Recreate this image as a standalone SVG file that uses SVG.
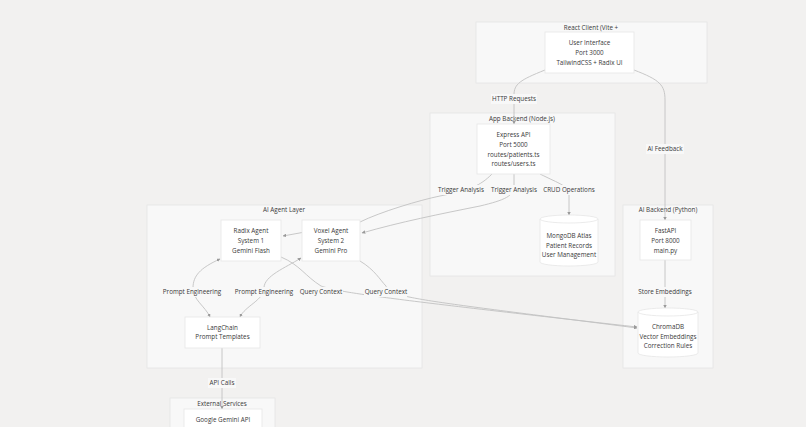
<svg xmlns="http://www.w3.org/2000/svg" width="806" height="427" viewBox="0 0 806 427">
<defs>
<marker id="ah" viewBox="0 0 10 10" refX="9" refY="5" markerWidth="4" markerHeight="4" orient="auto-start-reverse">
<path d="M0,0 L10,5 L0,10 z" fill="#9a9a9a"/>
</marker>
<style>
text{font-family:"Open Sans","Noto Sans",sans-serif;font-size:6.3px;fill:#3a3a3a;text-anchor:middle}
.cl{fill:#f8f8f8;stroke:#e4e4e4;stroke-width:0.8}
.nd{fill:#ffffff;stroke:#e6e6e6;stroke-width:0.8}
.e{fill:none;stroke:#c2c2c2;stroke-width:0.9}
.ea{fill:none;stroke:#c2c2c2;stroke-width:0.9;marker-end:url(#ah)}
.eb{fill:none;stroke:#c2c2c2;stroke-width:0.9;marker-end:url(#ah);marker-start:url(#ah)}
.lb{fill:#f8f8f8}
</style>
</defs>
<rect width="806" height="427" fill="#f2f1f0"/>

<g id="clusters">
<g id="cl-react"><rect class="cl" x="476" y="22" width="231" height="61"/><text x="591" y="30">React Client (Vite +</text></g>
<g id="cl-app"><rect class="cl" x="430" y="113" width="185" height="163"/><text x="522" y="121">App Backend (Node.js)</text></g>
<g id="cl-agent"><rect class="cl" x="147" y="205" width="275" height="163"/><text x="284" y="212">AI Agent Layer</text></g>
<g id="cl-ai"><rect class="cl" x="623" y="205" width="90" height="163"/><text x="668" y="212">AI Backend (Python)</text></g>
<g id="cl-ext"><rect class="cl" x="170" y="398" width="105" height="40"/><text x="222" y="406">External Services</text></g>
</g>

<g id="edges">
<path class="ea" d="M545,70 C520,80 514,84 514,95 L514,124"/>
<path class="ea" d="M634,70 C660,80 665,85 665,100 L665,220"/>
<path class="ea" d="M492,174 C480,186 470,190 440,196 C420,200 380,212 360,222 L283,236"/>
<path class="ea" d="M514,174 L514,186 C514,196 505,200 480,206 C440,214 400,222 362,233"/>
<path class="ea" d="M540,174 C560,184 569,186 569,195 L569,215"/>
<path class="eb" d="M220,259 C200,268 193,276 193,288 C193,300 205,306 210,317"/>
<path class="eb" d="M301,258 C285,268 264,276 264,288 C264,300 245,306 240,317"/>
<path class="ea" d="M281,257 C300,265 305,276 321,286 C340,292 360,296 637,327"/>
<path class="ea" d="M360,261 C375,270 380,280 386,286 C390,298 420,300 637,328"/>
<path class="ea" d="M665,260 L665,308"/>
<path class="ea" d="M222,348 L222,409"/>
</g>

<g id="edge-labels">
<rect class="lb" x="491" y="94" width="46" height="10"/><text x="514" y="101">HTTP Requests</text>
<rect class="lb" x="646" y="144" width="38" height="10"/><text x="665" y="151">AI Feedback</text>
<rect class="lb" x="437" y="185" width="48" height="10"/><text x="461" y="192">Trigger Analysis</text>
<rect class="lb" x="490" y="185" width="48" height="10"/><text x="514" y="192">Trigger Analysis</text>
<rect class="lb" x="543" y="185" width="52" height="10"/><text x="569" y="192">CRUD Operations</text>
<rect class="lb" x="162" y="287" width="60" height="10"/><text x="192" y="294">Prompt Engineering</text>
<rect class="lb" x="234" y="287" width="60" height="10"/><text x="264" y="294">Prompt Engineering</text>
<rect class="lb" x="300" y="287" width="43" height="10"/><text x="321" y="294">Query Context</text>
<rect class="lb" x="364" y="287" width="43" height="10"/><text x="386" y="294">Query Context</text>
<rect class="lb" x="638" y="287" width="54" height="10"/><text x="665" y="294">Store Embeddings</text>
<rect class="lb" x="208" y="378" width="28" height="10"/><text x="222" y="385">API Calls</text>
</g>

<g id="n-ui"><rect class="nd" x="545" y="32" width="89" height="41"/><text x="589.5" y="45">User Interface</text><text x="589.5" y="55">Port 3000</text><text x="589.5" y="65">TailwindCSS + Radix UI</text></g>
<g id="n-express"><rect class="nd" x="477" y="124" width="73" height="50"/><text x="513.5" y="137">Express API</text><text x="513.5" y="147">Port 5000</text><text x="513.5" y="157">routes/patients.ts</text><text x="513.5" y="166">routes/users.ts</text></g>
<g id="n-mongo"><path class="nd" d="M540,219 a29,4 0 0 1 58,0 L598,262 a29,4 0 0 1 -58,0 Z"/><path fill="none" stroke="#e6e6e6" stroke-width="0.8" d="M540,219 a29,4 0 0 0 58,0"/><text x="569" y="238">MongoDB Atlas</text><text x="569" y="248">Patient Records</text><text x="569" y="257">User Management</text></g>
<g id="n-radix"><rect class="nd" x="221" y="220" width="60" height="41"/><text x="251" y="233">Radix Agent</text><text x="251" y="243">System 1</text><text x="251" y="253">Gemini Flash</text></g>
<g id="n-voxel"><rect class="nd" x="302" y="220" width="58" height="41"/><text x="331" y="233">Voxel Agent</text><text x="331" y="243">System 2</text><text x="331" y="253">Gemini Pro</text></g>
<g id="n-langchain"><rect class="nd" x="185" y="317" width="75" height="31"/><text x="222.5" y="330">LangChain</text><text x="222.5" y="339">Prompt Templates</text></g>
<g id="n-fastapi"><rect class="nd" x="640" y="220" width="51" height="40"/><text x="665.5" y="233">FastAPI</text><text x="665.5" y="243">Port 8000</text><text x="665.5" y="253">main.py</text></g>
<g id="n-chroma"><path class="nd" d="M638,312 a30,4 0 0 1 60,0 L698,353 a30,4 0 0 1 -60,0 Z"/><path fill="none" stroke="#e6e6e6" stroke-width="0.8" d="M638,312 a30,4 0 0 0 60,0"/><text x="668" y="329">ChromaDB</text><text x="668" y="339">Vector Embeddings</text><text x="668" y="348">Correction Rules</text></g>
<g id="n-gemini"><rect class="nd" x="184" y="409" width="78" height="25"/><text x="223" y="422">Google Gemini API</text></g>
</svg>
